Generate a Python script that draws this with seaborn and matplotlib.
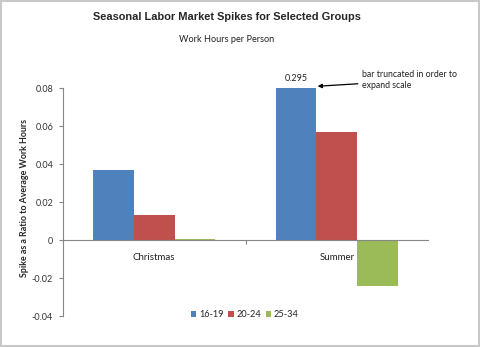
import matplotlib
matplotlib.use("Agg")
import matplotlib.pyplot as plt
from matplotlib.patches import Rectangle
import seaborn as sns
import pandas as pd

# Work-hour spikes relative to average, by season and age group
seasons = ["Christmas", "Summer"]
groups = ["16-19", "20-24", "25-34"]
spike_16_19 = [0.037, 0.295]
spike_20_24 = [0.013, 0.057]
spike_25_34 = [0.0005, -0.024]
colors = ["#4F81BD", "#C0504D", "#9BBB59"]
y_ticks = [-0.04, -0.02, 0, 0.02, 0.04, 0.06, 0.08]
y_tick_labels = ["-0.04", "-0.02", "0", "0.02", "0.04", "0.06", "0.08"]

rows = []
for g, vals in zip(groups, [spike_16_19, spike_20_24, spike_25_34]):
    for s, v in zip(seasons, vals):
        rows.append({"Season": s, "Group": g, "Spike": v})
df = pd.DataFrame(rows)

sns.set_theme(style="white")
plt.rcParams["font.family"] = ["Lato", "DejaVu Sans"]

fig = plt.figure(figsize=(4.8, 3.47), dpi=100)
ax = fig.add_axes([0.131, 0.089, 0.761, 0.657])

sns.barplot(data=df, x="Season", y="Spike", hue="Group", order=seasons,
            hue_order=groups, palette=colors, width=0.67, saturation=1,
            errorbar=None, ax=ax, legend=True, linewidth=0,
            edgecolor="none")

ax.set_ylim(-0.04, 0.08)
ax.set_xlim(-0.5, 1.5)
ax.set_yticks(y_ticks)
ax.set_yticklabels(y_tick_labels, fontsize=6.5, color="#333333")
ax.set_ylabel("Spike as a Ratio to Average Work Hours", fontsize=6.4,
              fontweight="bold")
ax.yaxis.set_label_coords(-0.093, 0.52)
ax.set_xlabel("")

for side in ["top", "right"]:
    ax.spines[side].set_visible(False)
ax.spines["left"].set_color("#868686")
ax.spines["left"].set_linewidth(0.8)
ax.spines["bottom"].set_position(("data", 0))
ax.spines["bottom"].set_color("#868686")
ax.spines["bottom"].set_linewidth(0.8)

ax.tick_params(axis="y", which="major", left=True, length=3, width=0.8,
               color="#868686", direction="out", pad=4)
ax.set_xticks([0, 1])
ax.set_xticklabels(seasons, fontsize=7, color="#222222")
ax.tick_params(axis="x", which="major", length=0, pad=9)
ax.set_xticks([0.5], minor=True)
ax.tick_params(axis="x", which="minor", bottom=True, length=3, width=0.8,
               color="#868686", direction="out")

# Value and note for the truncated summer bar
summer_top = spike_16_19[1]
ax.text(1 - 0.67 / 3, 0.0825, f"{summer_top:.3f}", ha="center", va="bottom",
        fontsize=6.5, color="#222222")
ax.annotate("", xy=(0.895, 0.0810), xytext=(1.115, 0.0823),
            annotation_clip=False,
            arrowprops=dict(arrowstyle="-|>", color="black", lw=0.9,
                            mutation_scale=6, shrinkA=0, shrinkB=0))
ax.text(1.14, 0.0845, "bar truncated in order to\nexpand scale",
        ha="left", va="center", fontsize=6.3, color="#222222",
        linespacing=1.3)

leg = ax.legend(loc="upper center", ncol=3, frameon=False,
                fontsize=6.6, handlelength=0.6, handleheight=0.6,
                handletextpad=0.3, columnspacing=0.5)
leg.set_bbox_to_anchor((0.51, 0.13), transform=fig.transFigure)

fig.text(0.472, 0.95, "Seasonal Labor Market Spikes for Selected Groups",
         ha="center", va="center", fontsize=7.9, fontweight="bold",
         family=["Liberation Sans", "DejaVu Sans"])
fig.text(0.472, 0.885, "Work Hours per Person", ha="center", va="center",
         fontsize=6.6, color="#222222")

fig.patches.append(Rectangle((0.002, 0.003), 0.995, 0.993,
                             transform=fig.transFigure, fill=False,
                             edgecolor="#C8C8C8", linewidth=1.5))

fig.savefig("out.png", dpi=100)
